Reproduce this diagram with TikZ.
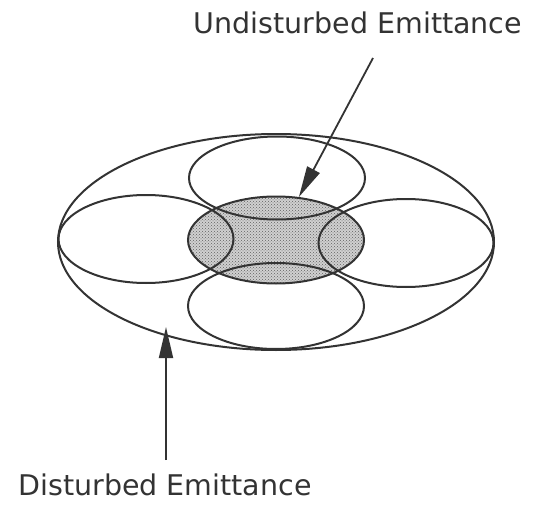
\documentclass[tikz,border=0pt]{standalone}
\usepackage{fontspec}
\setmainfont{DejaVu Sans}
\usetikzlibrary{arrows.meta,shapes.geometric,patterns}
\definecolor{inkgray}{HTML}{333333}
\definecolor{dotgray}{HTML}{606060}
\definecolor{dotback}{HTML}{D0D0D0}

\begin{document}
\begin{tikzpicture}[
    x=1pt, y=-1pt,
    ring/.style={draw=inkgray, ellipse, line width=2pt, inner sep=0pt},
    tag/.style={font=\fontsize{28.5}{30}\selectfont, text=inkgray, anchor=base, inner sep=0pt},
    pointer/.style={-{Triangle[length=31pt,width=14pt]}, line width=1.8pt, draw=inkgray}
]
\useasboundingbox (0,0) rectangle (544,506);
% shaded core first, rings on top
\node[ring, preaction={fill=dotback}, pattern=crosshatch dots, pattern color=dotgray, minimum width=176pt, minimum height=87pt] (core) at (276,240) {};
\node[ring, minimum width=436pt, minimum height=216pt] (outer) at (276,242) {};
\node[ring, minimum width=176pt, minimum height=83pt] (top) at (277,178) {};
\node[ring, minimum width=176pt, minimum height=86pt] (bottom) at (276,306) {};
\node[ring, minimum width=175pt, minimum height=88pt] (left) at (146,239) {};
\node[ring, minimum width=175pt, minimum height=88pt] (right) at (406,243) {};

\node[tag] (undist) at (358,33) {Undisturbed Emittance};
\node[tag] (dist) at (165,495) {Disturbed Emittance};

\coordinate (utail) at (373,58);
\coordinate (dtail) at (166,460);
\coordinate (dtip) at (166,327);
\draw[pointer] (utail) -- (core);
\draw[pointer] (dtail) -- (dtip);
\end{tikzpicture}
\end{document}
